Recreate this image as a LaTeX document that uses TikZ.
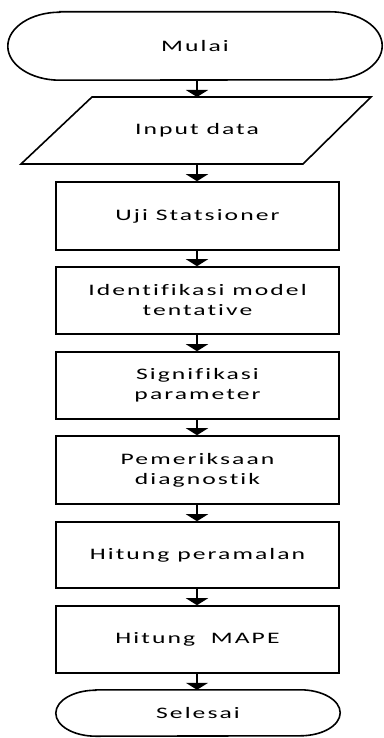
\documentclass[tikz,border=0pt]{standalone}
\usepackage{fontspec}
\setmainfont{Carlito}[FakeStretch=1.6,LetterSpace=13,Ligatures=NoCommon]
\usetikzlibrary{arrows.meta}
\begin{document}
\begin{tikzpicture}[x=1pt,y=-1pt,
  every node/.style={font=\fontsize{16}{20}\selectfont, align=center, inner sep=0pt},
  procbox/.style={draw, line width=1.6pt, minimum width=283pt, minimum height=68pt},
  flow/.style={line width=2pt, -{Triangle[width=22pt,length=7pt]}},
  outline/.style={line width=1.6pt}
]
\useasboundingbox (0,0) rectangle (383,738);
% start terminator
\node[minimum width=374pt, minimum height=68pt] (start) at (195,46) {Mulai};
\draw[outline] ([xshift=52pt]start.north west) -- ([xshift=-52pt]start.north east)
  arc[start angle=90,end angle=-90,x radius=52pt,y radius=34pt]
  -- ([xshift=52pt]start.south west)
  arc[start angle=270,end angle=90,x radius=52pt,y radius=34pt] -- cycle;
% input parallelogram
\node[minimum width=210pt, minimum height=67pt] (input) at (197,130.5) {Input data};
\coordinate (itl) at (92,97);
\coordinate (itr) at (371,97);
\coordinate (ibr) at (303,164);
\coordinate (ibl) at (21,164);
\draw[outline, line join=miter] (itl) -- (itr) -- (ibr) -- (ibl) -- cycle;
% process boxes
\node[procbox] (uji) at (197.5,216) {Uji Statsioner};
\node[procbox, minimum height=67pt] (iden) at (197.5,300.5) {Identifikasi model\\tentative};
\node[procbox, minimum height=67pt] (sig) at (197.5,385.5) {Signifikasi\\parameter};
\node[procbox] (peme) at (197.5,470) {Pemeriksaan\\diagnostik};
\node[procbox, minimum height=66pt] (hit) at (197.5,555) {Hitung peramalan};
\node[procbox, minimum height=67pt] (mape) at (197.5,639.5) {Hitung~~MAPE};
% end terminator
\node[minimum width=284pt, minimum height=46pt] (end) at (198,713) {Selesai};
\draw[outline] ([xshift=40pt]end.north west) -- ([xshift=-40pt]end.north east)
  arc[start angle=90,end angle=-90,x radius=40pt,y radius=23pt]
  -- ([xshift=40pt]end.south west)
  arc[start angle=270,end angle=90,x radius=40pt,y radius=23pt] -- cycle;
% connectors
\draw[flow] (start.south -| 197,0) -- (itl -| 197,0);
\draw[flow] (ibl -| 197,0) -- (uji.north -| 197,0);
\draw[flow] (uji.south -| 197,0) -- (iden.north -| 197,0);
\draw[flow] (iden.south -| 197,0) -- (sig.north -| 197,0);
\draw[flow] (sig.south -| 197,0) -- (peme.north -| 197,0);
\draw[flow] (peme.south -| 197,0) -- (hit.north -| 197,0);
\draw[flow] (hit.south -| 197,0) -- (mape.north -| 197,0);
\draw[flow] (mape.south -| 197,0) -- (end.north -| 197,0);
\end{tikzpicture}
\end{document}
